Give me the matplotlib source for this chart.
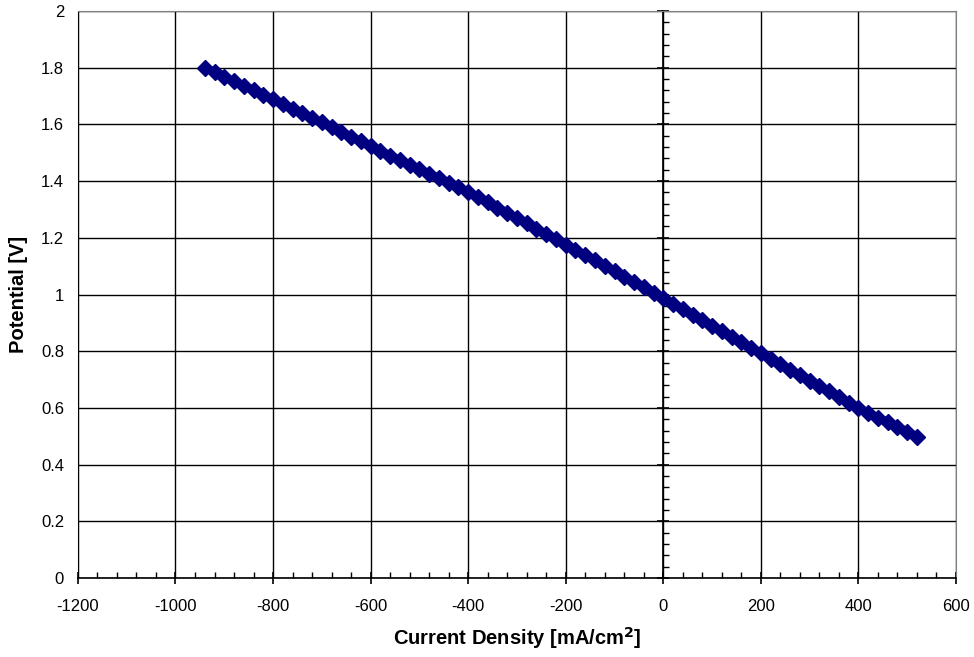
import matplotlib.pyplot as plt
from matplotlib.ticker import MultipleLocator

# polarisation curve (mA/cm2, V)
current = [-940, -920, -900, -880, -860, -840, -820, -800, -780, -760,
           -740, -720, -700, -680, -660, -640, -620, -600, -580, -560,
           -540, -520, -500, -480, -460, -440, -420, -400, -380, -360,
           -340, -320, -300, -280, -260, -240, -220, -200, -180, -160,
           -140, -120, -100, -80, -60, -40, -20, 0, 20, 40,
           60, 80, 100, 120, 140, 160, 180, 200, 220, 240,
           260, 280, 300, 320, 340, 360, 380, 400, 420, 440,
           460, 480, 500, 520]
potential = [1.800, 1.785, 1.768, 1.752, 1.736, 1.720, 1.703, 1.688, 1.671, 1.655,
             1.640, 1.623, 1.607, 1.591, 1.574, 1.557, 1.540, 1.522, 1.506, 1.490,
             1.474, 1.458, 1.442, 1.426, 1.410, 1.394, 1.378, 1.362, 1.344, 1.325,
             1.306, 1.288, 1.269, 1.251, 1.232, 1.213, 1.195, 1.176, 1.157, 1.138,
             1.120, 1.101, 1.082, 1.063, 1.044, 1.026, 1.007, 0.988, 0.968, 0.949,
             0.929, 0.910, 0.890, 0.870, 0.851, 0.831, 0.812, 0.792, 0.773, 0.754,
             0.734, 0.715, 0.696, 0.677, 0.658, 0.638, 0.619, 0.600, 0.583, 0.566,
             0.550, 0.533, 0.516, 0.499]

X_RANGE = (-1200, 600)
Y_RANGE = (0, 2)
NAVY = '#000080'

plt.rcParams['font.family'] = ['Liberation Sans', 'DejaVu Sans']
plt.rcParams['axes.unicode_minus'] = False

fig = plt.figure(figsize=(9.74, 6.57), dpi=100)
ax = fig.add_axes([0.080, 0.1202, 0.9015, 0.8631])

ax.plot(current, potential, color=NAVY, lw=6, marker='D', ms=8,
        mec=NAVY, mfc=NAVY, solid_capstyle='round', zorder=5)

ax.set_xlim(*X_RANGE)
ax.set_ylim(*Y_RANGE)
ax.xaxis.set_major_locator(MultipleLocator(200))
ax.xaxis.set_minor_locator(MultipleLocator(40))
ax.xaxis.set_major_formatter(lambda v, p: f"{v:g}")
ax.yaxis.set_major_locator(MultipleLocator(0.2))
ax.yaxis.set_minor_locator(MultipleLocator(0.04))
ax.yaxis.set_major_formatter(lambda v, p: f"{v:g}")

ax.grid(True, which='major', color='black', lw=1.0)
ax.set_axisbelow(True)

# frame: light grey, value axis sits at x = 0
for s in ('top', 'right'):
    ax.spines[s].set_color('#808080')
    ax.spines[s].set_linewidth(0.8)
ax.spines['bottom'].set_color('black')
ax.spines['bottom'].set_linewidth(1.2)
ax.spines['left'].set_position(('data', 0))
ax.spines['left'].set_color('black')
ax.spines['left'].set_linewidth(1.2)

ax.tick_params(axis='x', which='major', direction='inout', length=8, width=1.2,
               labelsize=12, pad=11)
ax.tick_params(axis='x', which='minor', direction='in', length=4, width=1.0)
ax.tick_params(axis='y', which='major', direction='inout', length=8, width=1.2,
               labelleft=False)
ax.tick_params(axis='y', which='minor', direction='in', length=4, width=1.0)

# tick labels along the left frame
sec = ax.secondary_yaxis('left')
sec.yaxis.set_major_locator(MultipleLocator(0.2))
sec.yaxis.set_major_formatter(lambda v, p: f"{v:g}")
sec.tick_params(length=0, labelsize=12, pad=10)
sec.spines['left'].set_color('#808080')
sec.spines['left'].set_linewidth(0.8)

ax.set_xlabel('Current Density [mA/cm$^\\mathbf{2}$]', fontsize=14.5, fontweight='bold')
ax.xaxis.set_label_coords(0.5, -0.083)
ax.text(-0.068, 0.5, 'Potential [V]', transform=ax.transAxes, rotation=90,
        ha='center', va='center', fontsize=14.5, fontweight='bold')

fig.savefig('out.png', dpi=100, facecolor='white')
